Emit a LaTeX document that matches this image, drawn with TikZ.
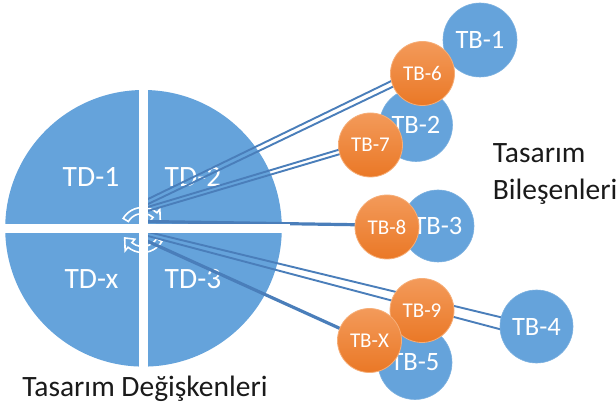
\documentclass[tikz,border=0pt]{standalone}
\usepackage{fontspec}
\setmainfont{Carlito}
\usetikzlibrary{calc}
\pgfdeclarelayer{background}
\pgfsetlayers{background,main}
\definecolor{pieblue}{HTML}{65A3DB}
\definecolor{linkblue}{HTML}{4A7EBA}
\definecolor{orgtop}{HTML}{F39A5A}
\definecolor{orgbot}{HTML}{EA7826}
\definecolor{orgedge}{HTML}{F6AE78}
\definecolor{captext}{HTML}{1A1A1A}
\begin{document}
\begin{tikzpicture}[x=1pt,y=-1pt,
  bluecirc/.style={circle, fill=pieblue, draw=pieblue!85!white, line width=0.6pt, inner sep=0pt, text=white, font=\fontsize{26.5}{30}\selectfont},
  orangecirc/.style={circle, top color=orgtop, bottom color=orgbot, draw=orgedge, line width=0.8pt, inner sep=0pt, minimum size=64pt, text=white, font=\fontsize{21}{25}\selectfont},
  tdlabel/.style={text=white, font=\fontsize{29.5}{34}\selectfont, inner sep=0pt},
  caption/.style={text=captext, font=\fontsize{29.5}{34}\selectfont, inner sep=0pt},
  thinlink/.style={draw=linkblue, line width=1.9pt},
  thicklink/.style={draw=linkblue, line width=3.2pt},
  cyclearrow/.style={draw=white, line width=1.6pt, fill=pieblue, line join=miter},
  gapstrip/.style={fill=white, draw=none}
]
\useasboundingbox (0,0) rectangle (616,406);

% blue component circles
\node[bluecirc, minimum size=74pt] (tb1) at (480,40) {TB-1};
\node[bluecirc, minimum size=73pt] (tb2) at (416,125) {TB-2};
\node[bluecirc, minimum size=72pt] (tb3) at (438,226) {TB-3};
\node[bluecirc, minimum size=73pt] (tb4) at (536.5,326.5) {TB-4};
\node[bluecirc, minimum size=74pt] (tb5) at (415,362.5) {TB-5};

% orange circles
\node[orangecirc] (tb6) at (422.5,73.5) {TB-6};
\node[orangecirc] (tb7) at (370.5,145) {TB-7};
\node[orangecirc] (tb8) at (387,227) {TB-8};
\node[orangecirc] (tb9) at (422,310.5) {TB-9};
\node[orangecirc] (tbx) at (369.5,340.5) {TB-X};

\begin{pgfonlayer}{background}
  \fill[white] (0,0) rectangle (616,406);
  % pie
  \node[circle, fill=pieblue, minimum size=276.6pt, inner sep=0pt] (pie) at (143.5,228.3) {};
  \node[tdlabel] (td1) at (91,177) {TD-1};
  \node[tdlabel] (td2) at (193,177) {TD-2};
  \node[tdlabel] (tdx) at (91.5,279) {TD-x};
  \node[tdlabel] (td3) at (193,279) {TD-3};
  % cycle arrows
  \begin{scope}[shift={(142.5,230)}]
    \draw[cyclearrow] (211:22.5) arc[start angle=211, end angle=310, radius=22.5]
      -- (310:27) -- (336:19.5) -- (310:12) -- (310:16.5)
      arc[start angle=310, end angle=211, radius=16.5] -- cycle;
    \draw[cyclearrow] (31:22.5) arc[start angle=31, end angle=130, radius=22.5]
      -- (130:27) -- (156:19.5) -- (130:12) -- (130:16.5)
      arc[start angle=130, end angle=31, radius=16.5] -- cycle;
  \end{scope}
  % hub coordinates
  \coordinate (h1a) at (146,200);
  \coordinate (h1b) at (146,205);
  \coordinate (h2a) at (146,207.5);
  \coordinate (h2b) at (146,211.5);
  \coordinate (h3) at (146,221.5);
  \coordinate (h4a) at (146,231.5);
  \coordinate (h4b) at (146,235.5);
  \coordinate (h5) at (146,240.5);
  % connectors
  \draw[thinlink] (h1a) -- ($(tb1.center)+(0,-2)$);
  \draw[thinlink] (h1b) -- ($(tb1.center)+(0,5)$);
  \draw[thinlink] (h2a) -- ($(tb2.center)+(2,1)$);
  \draw[thinlink] (h2b) -- ($(tb2.center)+(2,6)$);
  \draw[thicklink] (h3) -- (tb3.center);
  \draw[thinlink] (h4a) -- ($(tb4.center)+(0.5,-0.5)$);
  \draw[thinlink] (h4b) -- ($(tb4.center)+(0.5,12.5)$);
  \draw[thicklink] (h5) -- (tb5.center);
  % gaps between pie quarters
  \fill[gapstrip] (139.3,86) rectangle (147.7,370);
  \fill[gapstrip] (0,224) rectangle (290,232.7);
\end{pgfonlayer}

% captions
\node[caption, anchor=base] (capL) at (145,396.7) {Tasarım Değişkenleri};
\node[caption, anchor=base west] (capR1) at (492.7,163) {Tasarım};
\node[caption, anchor=base west] (capR2) at (492.7,200) {Bileşenleri};
\end{tikzpicture}
\end{document}
